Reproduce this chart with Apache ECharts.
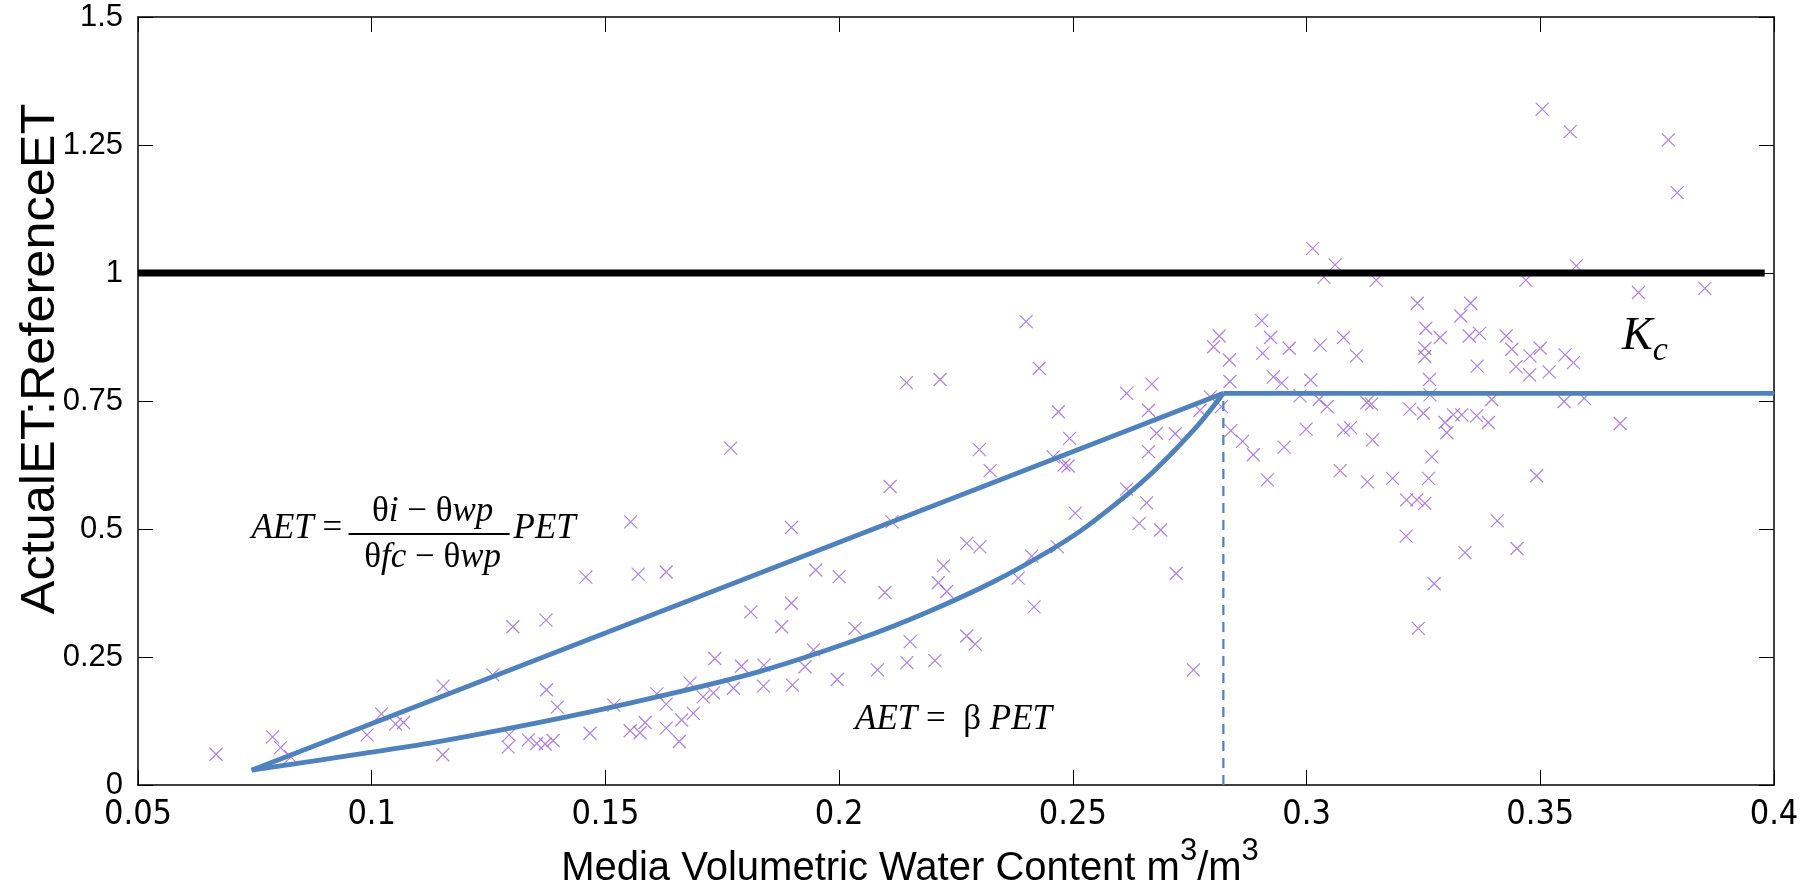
<!DOCTYPE html>
<html>
<head>
<meta charset="utf-8">
<script src="https://cdn.jsdelivr.net/npm/echarts@6/dist/echarts.min.js"></script>
<style>
  html, body { margin: 0; padding: 0; background: #fff; }
  #main { width: 1816px; height: 886px; }
</style>
</head>
<body>
<div id="main"></div>
<script>
// observed points: media water content (m3/m3) vs ActualET:ReferenceET
var obsX = [
  0.0667, 0.0788, 0.0805, 0.0827, 0.0990, 0.1021, 0.1051, 0.1068, 0.1152, 0.1153,
  0.1768, 0.1554, 0.1458, 0.1570, 0.1630, 0.1302, 0.1373, 0.1811, 0.1259, 0.1374,
  0.1397, 0.1734, 0.1791, 0.1839, 0.1774, 0.1838, 0.1518, 0.1610, 0.1630, 0.1681,
  0.1709, 0.1731, 0.1663, 0.1688, 0.1585, 0.1553, 0.1574, 0.1630, 0.1658, 0.1467,
  0.1294, 0.1292, 0.1335, 0.1353, 0.1371, 0.1388,
  0.2400, 0.2428, 0.2144, 0.2216, 0.2469, 0.2493, 0.2300, 0.2323, 0.2458, 0.2481,
  0.2490, 0.2109, 0.2113, 0.1898, 0.2505, 0.2273, 0.2301, 0.1950, 0.2000, 0.2223,
  0.2412, 0.2467, 0.1898, 0.2098, 0.2212, 0.2230, 0.2383, 0.2417, 0.1877, 0.2034,
  0.1945, 0.1927, 0.2152, 0.2273, 0.2291, 0.2145, 0.2205, 0.2082, 0.1996, 0.1900,
  0.3013, 0.3061, 0.3037, 0.3149, 0.3237, 0.3255, 0.3253, 0.3253, 0.2904, 0.2923,
  0.2906, 0.2963, 0.3029, 0.3079, 0.3107, 0.2813, 0.2801, 0.2835, 0.2836, 0.2929,
  0.2947, 0.3009, 0.2986, 0.3027, 0.3044, 0.3129, 0.3139, 0.3221, 0.3250, 0.2615,
  0.2669, 0.2662, 0.2794, 0.2772, 0.2818, 0.2679, 0.2719, 0.2662, 0.2615, 0.2658,
  0.2642, 0.2688, 0.2721, 0.2838, 0.2863, 0.2886, 0.2916, 0.2952, 0.2999, 0.3079,
  0.3094, 0.3141, 0.3072, 0.3130, 0.3184, 0.3214, 0.3236, 0.3253, 0.3213, 0.3268,
  0.3261, 0.3239, 0.3273, 0.2758,
  0.3504, 0.3564, 0.3774, 0.3793, 0.3577, 0.3469, 0.3710, 0.3852, 0.3351, 0.3330,
  0.3286, 0.3348, 0.3370, 0.3427, 0.3439, 0.3500, 0.3478, 0.3553, 0.3571, 0.3365,
  0.3448, 0.3477, 0.3519, 0.3263, 0.3264, 0.3396, 0.3551, 0.3594, 0.3314, 0.3332,
  0.3364, 0.3389, 0.3296, 0.3300, 0.3671, 0.3492, 0.3408, 0.3339, 0.3450
];
var obsY = [
  0.060, 0.094, 0.073, 0.055, 0.098, 0.139, 0.119, 0.122, 0.059, 0.193,
  0.658, 0.514, 0.406, 0.412, 0.416, 0.309, 0.322, 0.338, 0.215, 0.186,
  0.152, 0.247, 0.232, 0.234, 0.189, 0.193, 0.156, 0.178, 0.158, 0.199,
  0.172, 0.180, 0.127, 0.140, 0.122, 0.106, 0.102, 0.111, 0.085, 0.101,
  0.098, 0.074, 0.088, 0.081, 0.080, 0.087,
  0.905, 0.814, 0.786, 0.792, 0.729, 0.677, 0.655, 0.614, 0.641, 0.625,
  0.623, 0.583, 0.514, 0.503, 0.531, 0.472, 0.465, 0.420, 0.407, 0.428,
  0.447, 0.465, 0.355, 0.376, 0.395, 0.378, 0.404, 0.348, 0.309, 0.306,
  0.264, 0.231, 0.280, 0.291, 0.275, 0.239, 0.243, 0.225, 0.206, 0.195,
  1.048, 1.016, 0.992, 0.986, 0.941, 0.892, 0.853, 0.837, 0.907, 0.874,
  0.843, 0.853, 0.859, 0.874, 0.838, 0.877, 0.856, 0.830, 0.788, 0.797,
  0.785, 0.791, 0.760, 0.753, 0.739, 0.747, 0.744, 0.734, 0.726, 0.765,
  0.783, 0.732, 0.758, 0.732, 0.739, 0.687, 0.686, 0.651, 0.578, 0.551,
  0.511, 0.498, 0.413, 0.692, 0.671, 0.645, 0.596, 0.660, 0.695, 0.693,
  0.698, 0.674, 0.614, 0.592, 0.599, 0.557, 0.557, 0.550, 0.486, 0.641,
  0.599, 0.306, 0.393, 0.225,
  1.320, 1.276, 1.260, 1.157, 1.014, 0.986, 0.962, 0.970, 0.941, 0.916,
  0.874, 0.877, 0.882, 0.877, 0.851, 0.853, 0.838, 0.840, 0.825, 0.818,
  0.817, 0.801, 0.807, 0.792, 0.762, 0.753, 0.749, 0.755, 0.723, 0.723,
  0.721, 0.708, 0.708, 0.688, 0.706, 0.604, 0.516, 0.454, 0.462
];

// model lines
var refX = [0.05, 0.398];
var refY = [1, 1];
var linearX = [0.0743, 0.2822];
var linearY = [0.029, 0.765];
var betaX = [0.0743, 0.1000, 0.1146, 0.1417, 0.1610, 0.1831, 0.2045, 0.2187, 0.2330, 0.2458, 0.2537, 0.2658, 0.2765, 0.2822];
var betaY = [0.029, 0.064, 0.085, 0.133, 0.172, 0.222, 0.286, 0.337, 0.397, 0.462, 0.510, 0.600, 0.700, 0.765];
var kcX = [0.2822, 0.4];
var kcY = [0.765, 0.765];
var fcX = [0.2822, 0.2822];
var fcY = [0, 0.765];

function pairs(xs, ys) {
  return xs.map(function (x, i) { return [x, ys[i]]; });
}

var blue = '#4f81bd';
var sansFont = "'Liberation Sans', Arial, sans-serif";
var narrowFont = "'Liberation Sans Narrow', 'DejaVu Sans Condensed', 'Liberation Sans', sans-serif";
var mathFont = "'Liberation Serif', 'DejaVu Serif', serif";

var chart = echarts.init(document.getElementById('main'));

var baseX = {
  type: 'value', min: 0.05, max: 0.4, interval: 0.05,
  axisLine: { show: true, onZero: false, lineStyle: { color: '#000', width: 1.5 } },
  axisTick: { show: true, inside: true, length: 15, lineStyle: { color: '#000', width: 1 } },
  splitLine: { show: false }
};
var baseY = {
  type: 'value', min: 0, max: 1.5, interval: 0.25,
  axisLine: { show: true, onZero: false, lineStyle: { color: '#000', width: 1.5 } },
  axisTick: { show: true, inside: true, length: 15, lineStyle: { color: '#000', width: 1 } },
  splitLine: { show: false }
};

var option = {
  animation: false,
  backgroundColor: '#fff',
  grid: { left: 138, right: 42, top: 17, bottom: 101 },
  xAxis: [
    Object.assign({}, baseX, {
      position: 'bottom',
      axisLabel: { color: '#000', fontSize: 34, fontFamily: narrowFont, margin: 13 }
    }),
    Object.assign({}, baseX, { position: 'top', axisLabel: { show: false } })
  ],
  yAxis: [
    Object.assign({}, baseY, {
      position: 'left',
      axisLabel: { color: '#000', fontSize: 31, fontFamily: sansFont, margin: 15 }
    }),
    Object.assign({}, baseY, { position: 'right', axisLabel: { show: false } })
  ],
  series: [
    {
      type: 'scatter',
      data: pairs(obsX, obsY),
      symbol: 'path://M0,0L10,10M10,0L0,10',
      symbolSize: 13,
      itemStyle: { color: 'rgba(0,0,0,0)', borderColor: '#9b63d8', borderWidth: 1.2 },
      z: 2
    },
    {
      type: 'line', data: pairs(refX, refY), showSymbol: false,
      lineStyle: { color: '#000', width: 7 }, z: 3
    },
    {
      type: 'line', data: pairs(linearX, linearY), showSymbol: false,
      lineStyle: { color: blue, width: 4.8 }, z: 4
    },
    {
      type: 'line', data: pairs(betaX, betaY), showSymbol: false, smooth: 0.3,
      lineStyle: { color: blue, width: 4.8 }, z: 4
    },
    {
      type: 'line', data: pairs(kcX, kcY), showSymbol: false,
      lineStyle: { color: blue, width: 4.8 }, z: 4
    },
    {
      type: 'line', data: pairs(fcX, fcY), showSymbol: false,
      lineStyle: { color: blue, width: 2.2, type: [10, 7] }, z: 4
    }
  ]
};

chart.setOption(option);

// annotations placed from data anchors
function px(x, y) {
  return chart.convertToPixel({ gridIndex: 0 }, [x, y]);
}
var mathRich = {
  i: { fontFamily: mathFont, fontStyle: 'italic', fontSize: 35, fill: '#000' },
  u: { fontFamily: mathFont, fontSize: 35, fill: '#000' }
};
var f1 = px(0.0743, 0.5);
var f2 = px(0.2034, 0.127);
var kc = px(0.3675, 0.868);

chart.setOption({
  graphic: [
    {
      type: 'text', x: 40, y: 359, rotation: Math.PI / 2, scaleX: 1.03,
      style: { text: 'ActualET:ReferenceET', font: '49px ' + sansFont, fill: '#000', align: 'center', verticalAlign: 'middle' }
    },
    {
      type: 'text', x: 910, y: 862,
      style: {
        text: '{m|Media Volumetric Water Content m}{s|3}{m|/m}{s|3}',
        align: 'center', verticalAlign: 'middle',
        rich: {
          m: { fontFamily: sansFont, fontSize: 40, fill: '#000', verticalAlign: 'bottom' },
          s: { fontFamily: sansFont, fontSize: 31, fill: '#000', verticalAlign: 'top', padding: [0, 0, 22, 0] }
        }
      }
    },
    {
      type: 'text', x: f1[0], y: f1[1],
      style: { text: '{i|AET}{u| =}', rich: mathRich, align: 'left', verticalAlign: 'middle' }
    },
    {
      type: 'line', shape: { x1: f1[0] + 97, y1: f1[1] + 5, x2: f1[0] + 258, y2: f1[1] + 5 },
      style: { stroke: '#000', lineWidth: 2 }
    },
    {
      type: 'text', x: f1[0] + 181, y: f1[1] - 17,
      style: { text: '{u|θ}{i|i}{u| − θ}{i|wp}', rich: mathRich, align: 'center', verticalAlign: 'middle' }
    },
    {
      type: 'text', x: f1[0] + 181, y: f1[1] + 29,
      style: { text: '{u|θ}{i|fc}{u| − θ}{i|wp}', rich: mathRich, align: 'center', verticalAlign: 'middle' }
    },
    {
      type: 'text', x: f1[0] + 262, y: f1[1],
      style: { text: '{i|PET}', rich: mathRich, align: 'left', verticalAlign: 'middle' }
    },
    {
      type: 'text', x: f2[0], y: f2[1],
      style: { text: '{i|AET}{u| =  β }{i|PET}', rich: mathRich, align: 'left', verticalAlign: 'middle' }
    },
    {
      type: 'text', x: kc[0], y: kc[1],
      style: {
        text: '{k|K}{c|c}', align: 'left', verticalAlign: 'middle',
        rich: {
          k: { fontFamily: mathFont, fontStyle: 'italic', fontSize: 46, fill: '#000', verticalAlign: 'top' },
          c: { fontFamily: mathFont, fontStyle: 'italic', fontSize: 34, fill: '#000', verticalAlign: 'top', padding: [20, 0, 0, 0] }
        }
      }
    }
  ]
});

window.addEventListener('resize', function () { chart.resize(); });
</script>
</body>
</html>
